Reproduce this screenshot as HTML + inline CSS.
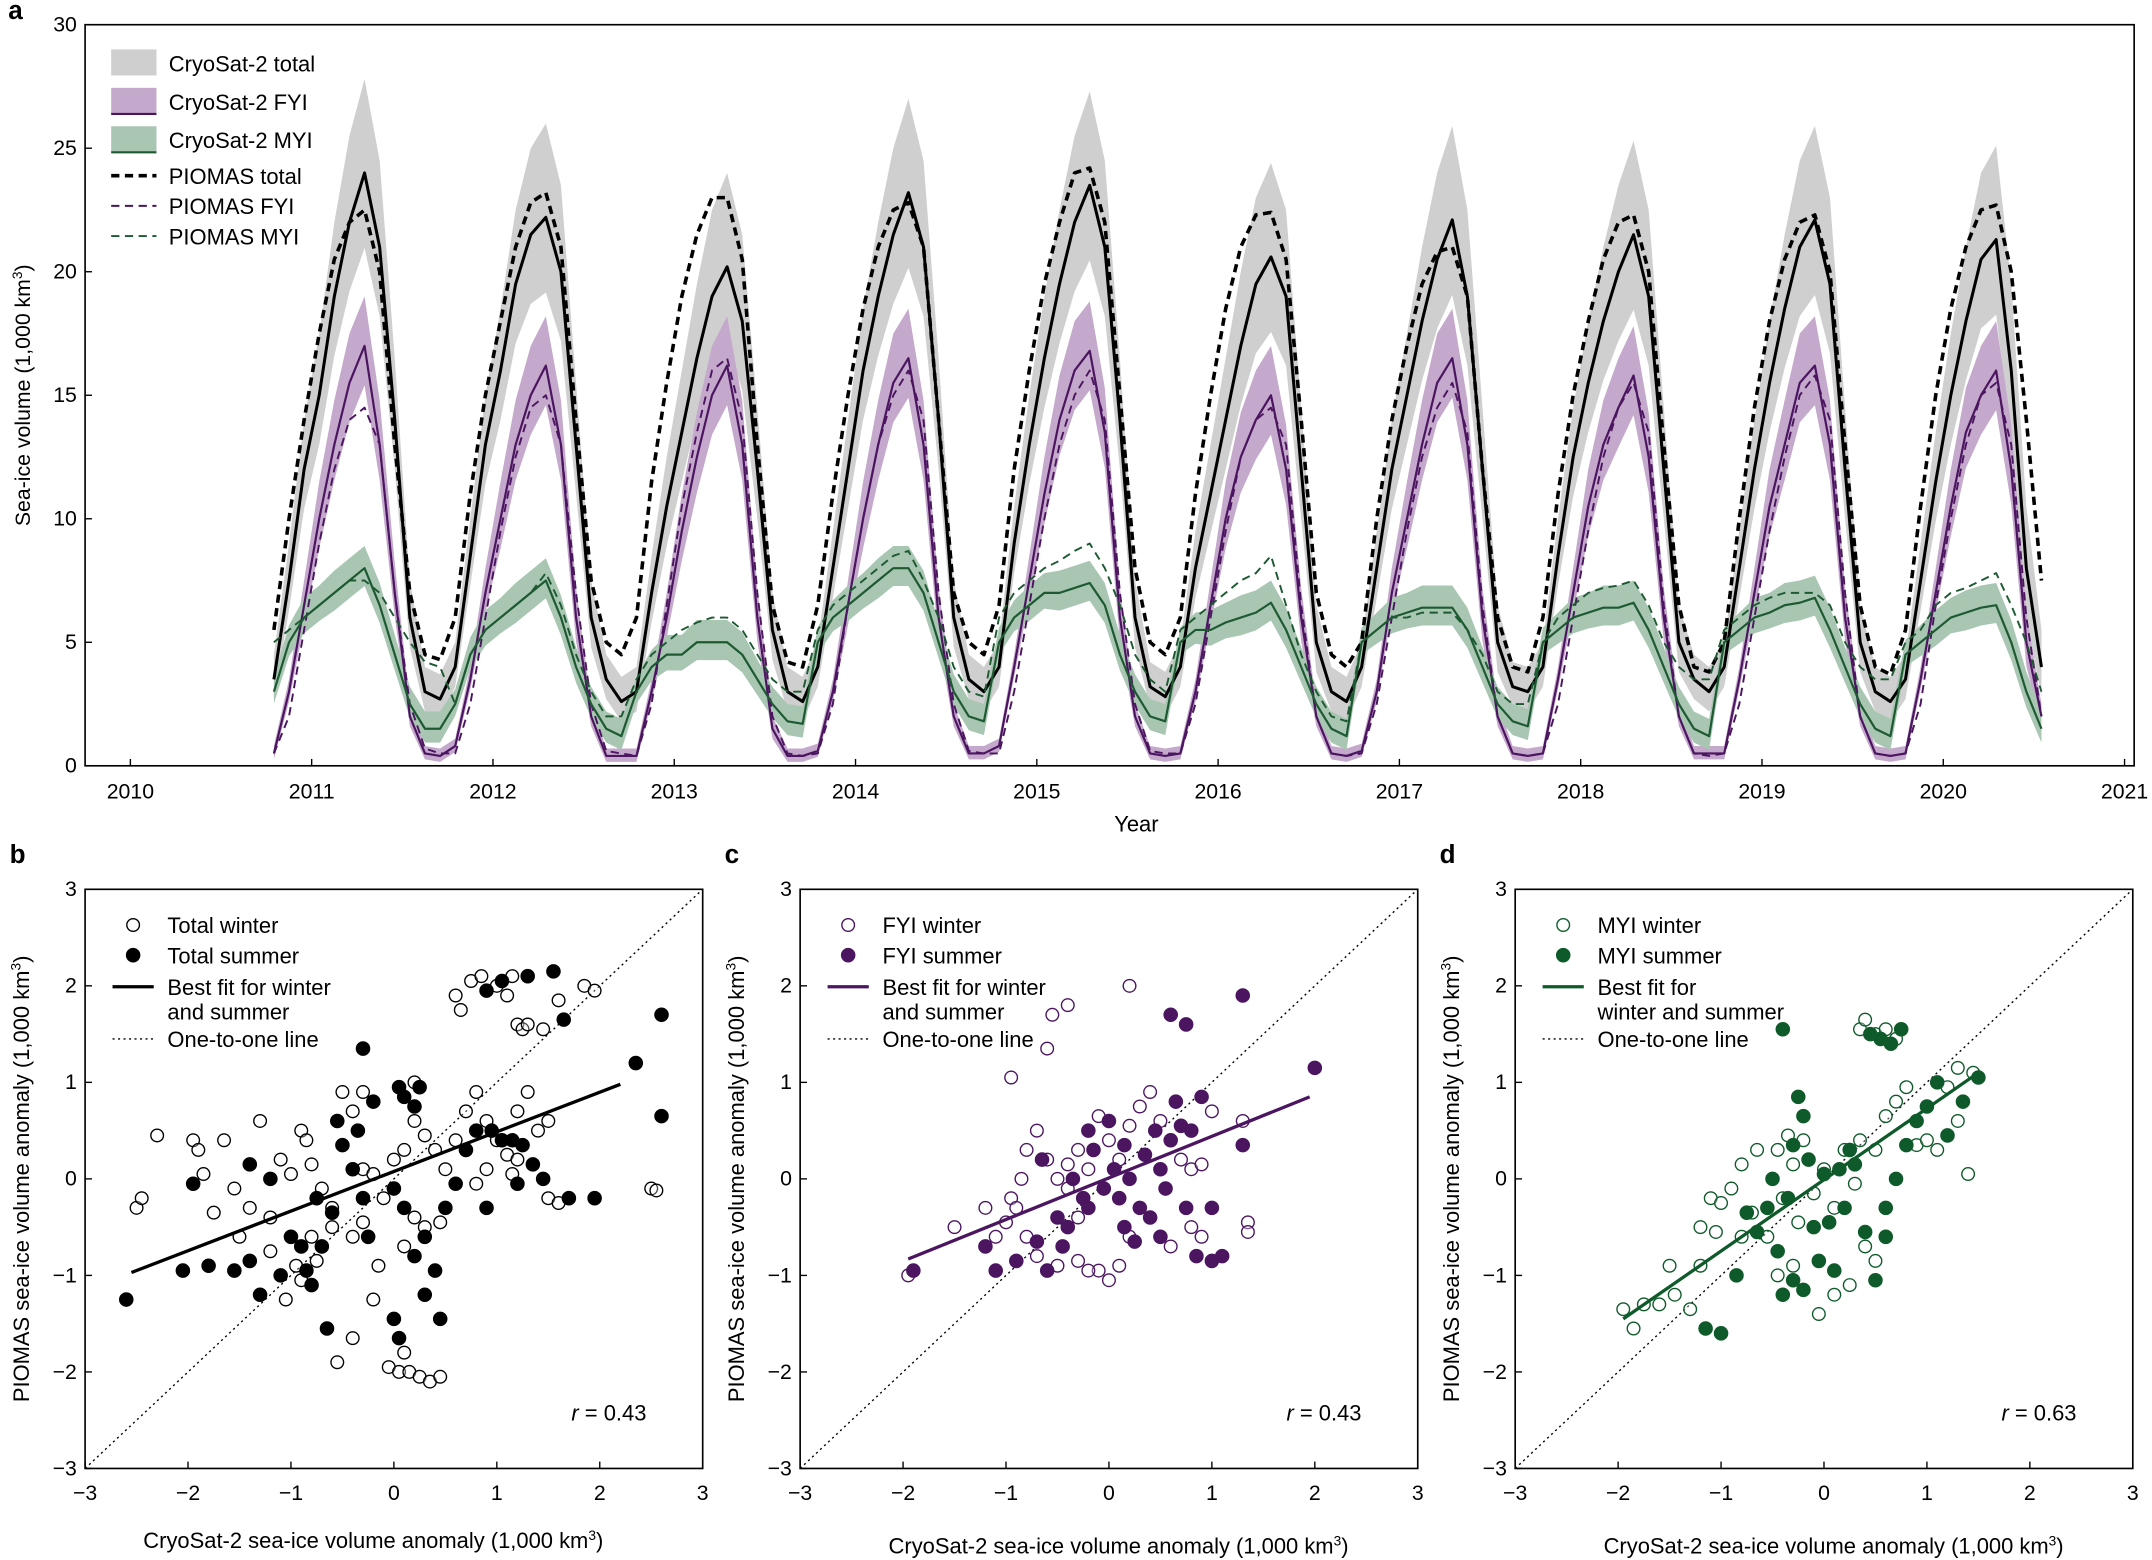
<!DOCTYPE html>
<html><head><meta charset="utf-8"><style>
html,body{margin:0;padding:0;background:#fff}
svg{display:block;font-family:"Liberation Sans",Arial,sans-serif}
</style></head><body>
<svg id="fig" width="2152" height="1560" viewBox="0 0 1568 1136.7" preserveAspectRatio="none" xmlns="http://www.w3.org/2000/svg"></svg>
<script>
// ---- Panel a data (monthly, Oct 2010 .. Jul 2020) ----
const startYear = 2010, startMonthIndex = 9.5;
const cs2Total = [
3.5,7.5,12,15,19,22,24,21,14,6,3,2.7,
4,8.5,13,16,19.5,21.5,22.2,20,13,6,3.5,2.6,
3,7,10.5,13.5,16.5,19,20.2,18,12,5.5,3,2.6,
4,8,12,16,19,21.5,23.2,21,14,6,3.5,3,
4,9,13,16.5,19.5,22,23.5,21,14,6,3.2,2.8,
4,8,11,14,17,19.5,20.6,19,12,5,3,2.6,
4,8,12,15,18,20.5,22.1,19,12,5,3.2,3,
4,8.5,12.5,15.5,18,20,21.5,19,12,5,3.5,3,
4,8,12,15.5,18.5,21,22.1,19.5,12,5,3,2.6,
3.5,7.5,11.5,15,18,20.5,21.3,16,8,4];
const piomasTotal = [
5.5,10,14,17.5,20.5,22,22.5,20,13,7,4.5,4.3,
6,11,15,18,21,22.8,23.2,21,14,7.5,5,4.5,
6,11.5,15.5,19,21.5,23,23,20.5,13,6.5,4.2,4,
6.5,11,15,18.5,21,22.5,22.8,21,14,7,5,4.5,
6.5,12,16,19.5,22,24,24.2,22,15,8,5,4.5,
6,11,15,18.5,21,22.3,22.4,20.5,14,7,4.5,4,
5,10,14,17,19.5,20.8,21,19,12,6,4,3.8,
6,11,15,18,20.5,22,22.3,20,13,6.5,4,3.8,
5,10,14.5,18,20.5,22,22.3,20,13,6.5,4,3.7,
5.5,10.5,15,18.5,21,22.5,22.7,20,14,7.5];
const cs2FYI = [
0.5,3,6.5,10,13,15.5,17,13,7,2,0.5,0.4,
0.8,3.5,7,10,13,15,16.2,13,6,2,0.4,0.4,
0.4,3,6,9.5,12.5,15,16.2,13,6,1.5,0.4,0.4,
0.6,3,6.5,10,13,15.5,16.5,13,6,2,0.5,0.5,
0.8,4,7.5,11,14,16,16.8,13.5,6,2,0.5,0.4,
0.5,3,6.5,10,12.5,14,15,12,6,2,0.5,0.4,
0.6,3,7,10,13,15.5,16.5,13,6,2,0.5,0.4,
0.5,3.5,7,10.5,13,14.5,15.8,12.5,6,2,0.5,0.5,
0.5,3.5,7,10.5,13,15.5,16.2,13,6,2,0.5,0.4,
0.5,3.5,7,10.5,13.5,15,16,12,5,2];
const piomasFYI = [
0.5,2,5.5,9,12,14,14.5,13,7,2.5,0.7,0.5,
0.5,2.5,6,9.5,12.5,14.5,15,13,7,2.5,0.6,0.5,
0.4,2.5,6.5,10.5,13.5,16,16.5,14,7,2,0.5,0.4,
0.5,2.5,6.5,10,13,15,16,14,7,2.5,0.6,0.5,
0.5,3,6.5,10,13,15,16,14,7,2.5,0.6,0.5,
0.5,2.5,6,9.5,12.5,14,14.5,13,6.5,2,0.5,0.4,
0.5,2.5,6,9.5,12.5,14.5,15.5,13.5,6.5,2,0.5,0.4,
0.5,2.5,6,9.5,12.5,14.5,15.5,13.5,6.5,2,0.5,0.4,
0.5,2.5,6,9.5,12.5,15,15.8,14,7,2,0.5,0.4,
0.5,2.5,6.5,10,13,15,15.5,13,6,2];
const cs2MYI = [
3,5,6,6.5,7,7.5,8,6.5,4.5,2.5,1.5,1.5,
2.5,4.5,5.5,6,6.5,7,7.5,6,4,2.5,1.5,1.2,
3,4,4.5,4.5,5,5,5,4.5,3.5,2.5,1.8,1.7,
5,6,6.5,7,7.5,8,8,7,5,3,2,1.8,
5,6,6.5,7,7,7.2,7.4,6.5,4.5,3,2,1.8,
5,5.5,5.5,5.8,6,6.2,6.6,5.5,4,2.5,1.5,1.2,
5,5.5,6,6.2,6.4,6.4,6.4,5.5,4,2.5,1.8,1.6,
5,5.5,6,6.2,6.4,6.4,6.6,5.5,4,2.5,1.5,1.2,
5,5.5,6,6.2,6.5,6.6,6.8,5.5,4,2.5,1.5,1.2,
4.5,5,5.5,6,6.2,6.4,6.5,5,3,1.5];
const piomasMYI = [
5,5.5,6,6.5,7,7.5,7.5,7,6,5,4.2,4,
2.5,4.5,5.5,6,6.5,7,7.8,6.5,4.5,3,2,2,
3.5,4.5,5,5.5,5.8,6,6,5.5,4.5,3.5,3,3,
5.5,6.5,7,7.5,8,8.5,8.7,7.5,6,4,3,2.8,
6,7,7.5,8,8.3,8.7,9,8,6.5,4.5,3.5,3,
5.5,6,6.5,7,7.5,7.8,8.5,6.5,4.5,3,2,1.8,
5,5.5,6,6,6.2,6.2,6.2,5.5,4.5,3,2.5,2.5,
5,6,6.5,7,7.2,7.3,7.5,6.5,5,4,3.5,3.5,
5.5,6,6.5,6.8,7,7,7,6.5,5,4,3.5,3.5,
5,5.5,6.5,7,7.2,7.5,7.8,6.5,5,3];
const spreadTotal = [1,1.5,2,2.5,3,3.5,3.8,3.5,2.5,1.5,1,1];
const spreadFYI = [0.3,0.5,1,1.5,1.8,2,2,1.8,1.2,0.5,0.3,0.3];
const spreadMYI = [0.6,0.7,0.8,0.8,0.9,0.9,0.9,0.9,0.8,0.7,0.7,0.7];
const yearTicks = [2010,2011,2012,2013,2014,2015,2016,2017,2018,2019,2020,2021];
const volTicks = [0,5,10,15,20,25,30];

const bWinter = [[0.6,1.9],[0.75,2.05],[0.85,2.1],[1.0,2.0],[1.1,1.9],[1.15,2.1],[1.2,1.6],[1.25,1.55],[1.3,1.6],[1.45,1.55],[1.6,1.85],[1.85,2.0],[1.95,1.95],[0.65,1.75],[-0.05,-1.95],[0.05,-2.0],[0.15,-2.0],[0.25,-2.05],[0.35,-2.1],[0.45,-2.05],[0.1,-1.8],[-0.2,-1.25],[-0.55,-1.9],[-0.4,-1.65],[2.5,-0.1],[2.55,-0.12],[1.5,-0.2],[1.6,-0.25],[-2.3,0.45],[-2.5,-0.3],[-2.45,-0.2],[-1.95,0.4],[-1.9,0.3],[-1.65,0.4],[-1.85,0.05],[-1.55,-0.1],[-1.75,-0.35],[-1.3,0.6],[-1.1,0.2],[-1.0,0.05],[-0.9,0.5],[-0.85,0.4],[-0.8,0.15],[-0.7,-0.1],[-0.6,-0.3],[-0.5,0.9],[-0.4,0.7],[-0.3,0.1],[-0.2,0.05],[-0.1,-0.2],[0.0,0.2],[0.1,0.3],[0.2,0.6],[0.3,0.45],[0.4,0.3],[0.5,0.1],[0.6,0.4],[0.7,0.7],[0.8,0.9],[0.9,0.6],[1.0,0.4],[1.1,0.25],[1.2,0.7],[1.3,0.9],[1.4,0.5],[1.5,0.6],[1.2,0.2],[1.15,0.05],[-0.3,0.9],[0.2,1.0],[-1.2,-0.75],[-0.95,-0.9],[-0.9,-1.05],[-0.8,-0.6],[-0.75,-0.85],[-0.6,-0.5],[-0.4,-0.6],[-0.3,-0.45],[-0.15,-0.9],[0.1,-0.7],[0.2,-0.4],[0.3,-0.5],[0.45,-0.45],[-1.5,-0.6],[-1.4,-0.3],[-1.2,-0.4],[-1.05,-1.25],[0.8,-0.05],[0.9,0.1]];
const bSummer = [[-2.6,-1.25],[-2.05,-0.95],[-1.8,-0.9],[-1.55,-0.95],[-1.4,-0.85],[-1.3,-1.2],[-1.1,-1.0],[-1.0,-0.6],[-0.9,-0.7],[-0.85,-0.95],[-0.8,-1.1],[-0.75,-0.2],[-0.6,-0.35],[-0.65,-1.55],[-0.5,0.35],[-0.4,0.1],[-0.3,-0.2],[-0.25,-0.6],[-0.3,1.35],[-0.2,0.8],[0.05,0.95],[0.1,0.85],[0.2,0.75],[0.25,0.95],[0.0,-0.1],[0.1,-0.3],[0.2,-0.8],[0.3,-0.6],[0.4,-0.95],[0.3,-1.2],[0.45,-1.45],[0.0,-1.45],[0.05,-1.65],[0.5,-0.3],[0.6,-0.05],[0.7,0.3],[0.8,0.5],[0.95,0.5],[1.05,0.4],[1.15,0.4],[1.25,0.35],[1.35,0.15],[1.45,0.0],[0.9,1.95],[1.05,2.05],[1.3,2.1],[1.55,2.15],[1.65,1.65],[2.35,1.2],[2.6,1.7],[2.6,0.65],[1.95,-0.2],[1.7,-0.2],[1.2,-0.05],[0.9,-0.3],[-1.95,-0.05],[-1.4,0.15],[-1.2,0.0],[-0.7,-0.7],[-0.55,0.6],[-0.35,0.5]];
const cWinter = [[-1.95,-1.0],[-1.5,-0.5],[-1.2,-0.3],[-1.1,-0.6],[-1.0,-0.45],[-0.95,-0.2],[-0.9,-0.3],[-0.85,0.0],[-0.8,0.3],[-0.7,0.5],[-0.6,0.2],[-0.5,0.0],[-0.4,-0.1],[-0.3,0.3],[-0.2,0.1],[-0.1,0.65],[0.0,0.4],[0.1,0.2],[0.2,0.55],[0.3,0.75],[0.4,0.9],[0.5,0.6],[0.6,0.4],[0.7,0.2],[0.8,0.1],[0.9,0.15],[1.0,0.7],[1.3,0.6],[1.35,-0.45],[1.35,-0.55],[0.8,-0.5],[0.9,-0.6],[0.6,-0.7],[0.4,-0.4],[0.2,-0.6],[0.1,-0.9],[0.0,-1.05],[-0.1,-0.95],[-0.2,-0.95],[-0.3,-0.85],[-0.5,-0.9],[-0.7,-0.8],[-0.8,-0.6],[-0.95,1.05],[-0.6,1.35],[-0.55,1.7],[-0.4,1.8],[0.2,2.0],[-0.3,-0.4],[-0.4,0.15]];
const cSummer = [[-1.9,-0.95],[-1.2,-0.7],[-1.1,-0.95],[-0.9,-0.85],[-0.7,-0.65],[-0.6,-0.95],[-0.5,-0.4],[-0.4,-0.5],[-0.35,0.0],[-0.25,-0.2],[-0.15,0.3],[-0.05,-0.1],[0.05,0.1],[0.1,-0.2],[0.15,0.35],[0.2,0.0],[0.3,-0.3],[0.35,0.25],[0.45,0.5],[0.5,0.1],[0.55,-0.1],[0.6,0.4],[0.65,0.8],[0.7,0.55],[0.75,-0.3],[0.8,0.5],[0.9,0.85],[1.0,-0.3],[1.1,-0.8],[1.3,0.35],[0.85,-0.8],[1.0,-0.85],[0.4,-0.4],[0.25,-0.65],[-0.45,-0.7],[-0.2,0.5],[0.0,0.6],[0.6,1.7],[0.75,1.6],[1.3,1.9],[2.0,1.15],[-0.65,0.2],[-0.2,-0.3],[0.15,-0.5],[0.5,-0.6]];
const dWinter = [[-1.95,-1.35],[-1.85,-1.55],[-1.75,-1.3],[-1.6,-1.3],[-1.45,-1.2],[-1.3,-1.35],[-1.2,-0.9],[-1.1,-0.2],[-1.0,-0.25],[-0.9,-0.1],[-0.8,0.15],[-0.7,-0.35],[-0.65,0.3],[-0.55,-0.6],[-0.5,0.0],[-0.45,0.3],[-0.4,-0.2],[-0.35,0.45],[-0.3,0.15],[-0.25,-0.45],[-0.2,0.4],[-0.15,0.2],[-0.1,-0.15],[0.0,0.1],[0.1,-0.3],[0.2,0.3],[0.3,-0.05],[0.35,0.4],[0.4,-0.7],[0.5,0.3],[0.5,-0.85],[0.6,0.65],[0.7,0.8],[0.8,0.95],[0.9,0.35],[1.0,0.4],[1.1,0.3],[1.2,0.95],[1.3,0.6],[1.4,0.05],[1.45,1.1],[1.3,1.15],[0.35,1.55],[0.4,1.65],[0.5,1.5],[0.6,1.55],[0.7,1.45],[0.25,-1.1],[0.1,-1.2],[-0.05,-1.4],[-0.3,-0.9],[-0.45,-1.0],[-0.8,-0.6],[-1.05,-0.55],[-1.5,-0.9],[-1.2,-0.5]];
const dSummer = [[-1.0,-1.6],[-1.15,-1.55],[-0.85,-1.0],[-0.75,-0.35],[-0.65,-0.55],[-0.55,-0.3],[-0.45,-0.75],[-0.4,-1.2],[-0.35,-0.2],[-0.3,0.35],[-0.25,0.85],[-0.2,0.65],[-0.15,0.2],[-0.1,-0.5],[-0.05,-0.85],[0.0,0.05],[0.05,-0.45],[0.1,-0.95],[0.15,0.1],[0.2,-0.3],[0.3,0.15],[0.4,-0.55],[0.5,-1.05],[0.6,-0.6],[0.7,0.0],[0.8,0.35],[0.9,0.6],[1.0,0.75],[1.2,0.45],[1.35,0.8],[1.5,1.05],[1.1,1.0],[0.45,1.5],[0.55,1.45],[0.65,1.4],[0.75,1.55],[-0.4,1.55],[-0.3,-1.05],[-0.2,-1.15],[0.6,-0.3],[0.25,0.3],[-0.5,0.0]];
const bFit = [[-2.55,-0.97],[2.2,0.98]];
const cFit = [[-1.95,-0.83],[1.95,0.85]];
const dFit = [[-1.95,-1.45],[1.5,1.1]];
const anomTicks = [-3,-2,-1,0,1,2,3];
const rValues = ["0.43","0.43","0.63"];

const NS="http://www.w3.org/2000/svg";
const svg=document.getElementById('fig');
function mk(tag,attrs,parent,text){const e=document.createElementNS(NS,tag);for(const k in attrs)e.setAttribute(k,attrs[k]);if(text!==undefined)e.textContent=text;(parent||svg).appendChild(e);return e;}

const A={l:62,r:1555,t:18,b:558};
const ax=t=>95+(t-2010)*(1548-95)/11;
const ay=v=>A.b-v*(A.b-A.t)/30;
const tOf=i=>startYear+(startMonthIndex+i)/12;
const ga=mk('g',{});


function band(vals,spread,fill,name){
  let up=[],lo=[];
  vals.forEach((v,i)=>{const s=spread[i%12];up.push(ax(tOf(i))+','+ay(v+s));lo.push(ax(tOf(i))+','+ay(Math.max(0,v-s*0.8)));});
  const p=mk('polygon',{points:up.concat(lo.reverse()).join(' '),fill:fill,stroke:'none'},ga);
  
  
}
function line(vals,color,w,dash,name){
  const pts=vals.map((v,i)=>ax(tOf(i))+','+ay(v)).join(' ');
  const p=mk('polyline',{points:pts,fill:'none',stroke:color,'stroke-width':w,'stroke-dasharray':dash||'none','stroke-linejoin':'round'},ga);
  
  
}
band(cs2Total,spreadTotal,'#cfcfcf','cs2-total-band');
band(cs2FYI,spreadFYI,'#c5a9cc','cs2-fyi-band');
band(cs2MYI,spreadMYI,'#a9c6b3','cs2-myi-band');
line(piomasTotal,'#000',2.6,'6,4','piomas-total-line');
line(cs2Total,'#000',2.2,null,'cs2-total-line');
line(piomasFYI,'#4b1560',1.4,'6,4','piomas-fyi-line');
line(cs2FYI,'#4b1560',1.6,null,'cs2-fyi-line');
line(piomasMYI,'#1d5a32',1.4,'6,4','piomas-myi-line');
line(cs2MYI,'#1d5a32',1.6,null,'cs2-myi-line');
mk('rect',{x:A.l,y:A.t,width:A.r-A.l,height:A.b-A.t,fill:'none',stroke:'#000','stroke-width':1.2},ga);
yearTicks.forEach(y=>{const x=ax(y);mk('line',{x1:x,x2:x,y1:A.b,y2:A.b-5,stroke:'#000'},ga);const t=mk('text',{x:x,y:A.b+24,'font-size':15.5,'text-anchor':'middle'},ga,String(y));});
volTicks.forEach(v=>{const y=ay(v);mk('line',{x1:A.l,x2:A.l+5,y1:y,y2:y,stroke:'#000'},ga);const t=mk('text',{x:A.l-6,y:y+5,'font-size':15.5,'text-anchor':'end'},ga,String(v));});
let xt=mk('text',{x:828,y:606,'font-size':16,'text-anchor':'middle'},ga,'Year');

let yt=mk('text',{x:0,y:0,'font-size':15.5,'text-anchor':'middle',transform:'translate(22,288) rotate(-90)'},ga);

yt.innerHTML='Sea-ice volume (1,000 km<tspan dy="-6" font-size="10">3</tspan><tspan dy="6">)</tspan>';
let la=mk('text',{x:6,y:14,'font-size':19,'font-weight':'bold'},svg,'a');
const legA=[['CryoSat-2 total','rect','#cfcfcf',null,46],['CryoSat-2 FYI','rect','#c5a9cc','#4b1560',74],['CryoSat-2 MYI','rect','#a9c6b3','#1d5a32',102],['PIOMAS total','dash','#000',2.6,128],['PIOMAS FYI','dash','#4b1560',1.4,150],['PIOMAS MYI','dash','#1d5a32',1.4,172]];
legA.forEach(d=>{const g=mk('g',{},ga);
 if(d[1]==='rect'){mk('rect',{x:81,y:d[4]-10,width:33,height:19,fill:d[2]},g);if(d[3])mk('line',{x1:81,x2:114,y1:d[4]+9,y2:d[4]+9,stroke:d[3],'stroke-width':1.5},g);}
 else mk('line',{x1:81,x2:114,y1:d[4],y2:d[4],stroke:d[2],'stroke-width':d[3],'stroke-dasharray':'6,4'},g);
 mk('text',{x:123,y:d[4]+6,'font-size':16},g,d[0]);});

function scatter(x0,letter,winter,summer,fit,color,labels,rv,xlabY,xlabX){
  const L=x0,R=x0+450,T=648,B=1070;
  const sx=v=>L+(v+3)*(R-L)/6, sy=v=>B-(v+3)*(B-T)/6;
  const g=mk('g',{});
  
  
  let one=mk('line',{x1:sx(-3),y1:sy(-3),x2:sx(3),y2:sy(3),stroke:'#000','stroke-width':1,'stroke-dasharray':'1.5,2.5'},g);
  
  winter.forEach(p=>{const c=mk('circle',{cx:sx(p[0]),cy:sy(p[1]),r:4.6,fill:'#fff','fill-opacity':0.3,stroke:color,'stroke-width':1},g);});
  summer.forEach(p=>{const c=mk('circle',{cx:sx(p[0]),cy:sy(p[1]),r:4.8,fill:color,stroke:color,'stroke-width':1},g);});
  let fl=mk('line',{x1:sx(fit[0][0]),y1:sy(fit[0][1]),x2:sx(fit[1][0]),y2:sy(fit[1][1]),stroke:color,'stroke-width':2.4},g);
  
  mk('rect',{x:L,y:T,width:R-L,height:B-T,fill:'none',stroke:'#000','stroke-width':1.2},g);
  anomTicks.forEach(v=>{const x=sx(v),y=sy(v);
    mk('line',{x1:x,x2:x,y1:B,y2:B-5,stroke:'#000'},g);
    mk('line',{x1:L,x2:L+5,y1:y,y2:y,stroke:'#000'},g);
    const s=v<0?'\u2212'+(-v):String(v);
    let tx=mk('text',{x:x,y:B+23,'font-size':15.5,'text-anchor':'middle'},g,s);
    let ty=mk('text',{x:L-6,y:y+5,'font-size':15.5,'text-anchor':'end'},g,s);});
  let xl=mk('text',{x:xlabX,y:xlabY,'font-size':16,'text-anchor':'middle'},g);
  
  xl.innerHTML='CryoSat-2 sea-ice volume anomaly (1,000 km<tspan dy="-6" font-size="10">3</tspan><tspan dy="6">)</tspan>';
  let yl=mk('text',{x:0,y:0,'font-size':16,'text-anchor':'middle',transform:'translate('+(L-41)+',859) rotate(-90)'},g);
  
  yl.innerHTML='PIOMAS sea-ice volume anomaly (1,000 km<tspan dy="-6" font-size="10">3</tspan><tspan dy="6">)</tspan>';
  let pl=mk('text',{x:L-55,y:629,'font-size':19,'font-weight':'bold'},svg,letter);
  let rt=mk('text',{x:R-41,y:1035,'font-size':16,'text-anchor':'end'},g);
  
  rt.innerHTML='<tspan font-style="italic">r</tspan> = '+rv;
  const lx=L+35;
  let e1=mk('g',{},g);
  mk('circle',{cx:lx,cy:674,r:4.6,fill:'#fff',stroke:color},e1);mk('text',{x:L+60,y:680,'font-size':16},e1,labels[0]);
  let e2=mk('g',{},g);
  mk('circle',{cx:lx,cy:696,r:4.8,fill:color,stroke:color},e2);mk('text',{x:L+60,y:702,'font-size':16},e2,labels[1]);
  let e3=mk('g',{},g);
  mk('line',{x1:L+20,x2:L+50,y1:719,y2:719,stroke:color,'stroke-width':2.4},e3);
  mk('text',{x:L+60,y:725,'font-size':16},e3,labels[2]);mk('text',{x:L+60,y:743,'font-size':16},e3,labels[3]);
  let e4=mk('g',{},g);
  mk('line',{x1:L+20,x2:L+50,y1:757,y2:757,stroke:'#000','stroke-dasharray':'1.5,2.5'},e4);
  mk('text',{x:L+60,y:763,'font-size':16},e4,'One-to-one line');
}
scatter(62,'b',bWinter,bSummer,bFit,'#000',['Total winter','Total summer','Best fit for winter','and summer'],rValues[0],1128,272);
scatter(583,'c',cWinter,cSummer,cFit,'#4b1560',['FYI winter','FYI summer','Best fit for winter','and summer'],rValues[1],1132,815);
scatter(1104,'d',dWinter,dSummer,dFit,'#0f5a2a',['MYI winter','MYI summer','Best fit for','winter and summer'],rValues[2],1132,1336);
</script>
</body></html>
